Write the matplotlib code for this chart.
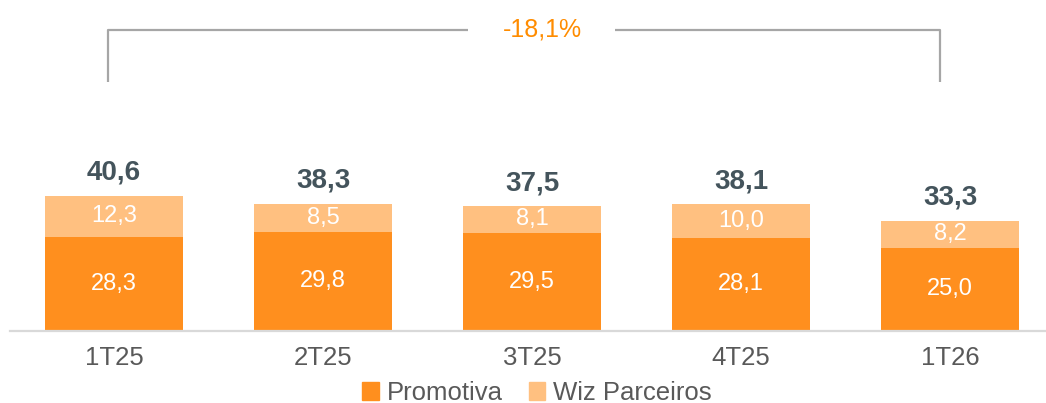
import matplotlib.pyplot as plt
from matplotlib.patches import Patch

plt.rcParams['font.family'] = ['Liberation Sans', 'DejaVu Sans']

quarters = ['1T25', '2T25', '3T25', '4T25', '1T26']
promotiva = [28.3, 29.8, 29.5, 28.1, 25.0]
wiz = [12.3, 8.5, 8.1, 10.0, 8.2]
totals = [40.6, 38.3, 37.5, 38.1, 33.3]
variation = '-18,1%'

c_prom = '#FF8F1E'
c_wiz = '#FFC080'
c_total = '#44545C'
c_tick = '#595959'


def fmt(v):
    return f'{v:.1f}'.replace('.', ',')


fig = plt.figure(figsize=(10.46, 4.03), dpi=100)
ax = fig.add_axes([9.5 / 1046, 72 / 403, 1045 / 1046, 331 / 403])

x = list(range(len(quarters)))
w = 0.665
ax.bar(x, promotiva, width=w, color=c_prom, label='Promotiva')
ax.bar(x, wiz, width=w, bottom=promotiva, color=c_wiz, label='Wiz Parceiros')

for i in x:
    ax.text(i, promotiva[i] / 2, fmt(promotiva[i]), ha='center', va='center',
            color='white', fontsize=17)
    ax.text(i, promotiva[i] + wiz[i] / 2, fmt(wiz[i]), ha='center', va='center',
            color='white', fontsize=17)
    ax.text(i, totals[i] + 4.8, fmt(totals[i]), ha='center', va='baseline',
            color=c_total, fontsize=20, fontweight='bold')

# bracket with variation
y_top, y_bot = 90.5, 75.0
xl, xr = -0.03, 3.95
ax.plot([xl, xl, 1.694], [y_bot, y_top, y_top], color='#A6A6A6', lw=1.6,
        solid_capstyle='butt', clip_on=False)
ax.plot([2.397, xr, xr], [y_top, y_top, y_bot], color='#A6A6A6', lw=1.6,
        solid_capstyle='butt', clip_on=False)
ax.text(2.048, y_top, variation, ha='center', va='center', color='#FF8C00',
        fontsize=18)

ax.set_xlim(-0.5, 4.5)
ax.set_ylim(0, 99.5)
ax.set_xticks(x)
ax.set_xticklabels(quarters, fontsize=18.5, color=c_tick)
ax.tick_params(axis='x', length=0, pad=11)
ax.set_yticks([])
for s in ['top', 'right', 'left']:
    ax.spines[s].set_visible(False)
ax.spines['bottom'].set_color('#D9D9D9')
ax.spines['bottom'].set_linewidth(1.6)

handles = [Patch(color=c_prom, label='Promotiva'), Patch(color=c_wiz, label='Wiz Parceiros')]
fig.legend(handles=handles, loc='center', bbox_to_anchor=(537 / 1046, 1 - 393 / 403),
           ncol=2, frameon=False, fontsize=18.5, handlelength=0.65, handleheight=0.65,
           handletextpad=0.3, columnspacing=1.0, labelcolor=c_tick)

fig.savefig('out.png', dpi=100)
